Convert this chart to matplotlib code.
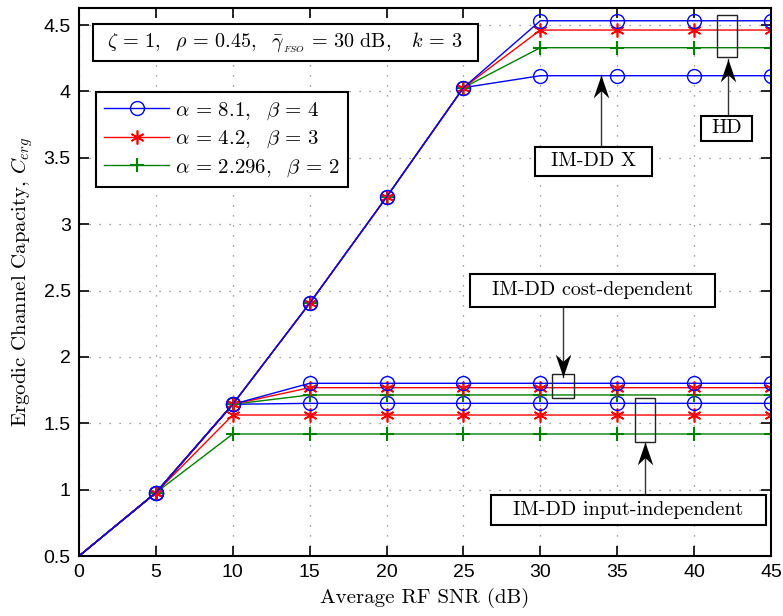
import matplotlib
matplotlib.use("Agg")
import matplotlib.pyplot as plt
from matplotlib.patches import Rectangle
from matplotlib.path import Path

# average RF SNR (dB)
snr = [0, 5, 10, 15, 20, 25, 30, 35, 40, 45]

# HD curves, one per (alpha, beta) pair
hd_blue = [0.5, 0.977, 1.643, 2.404, 3.204, 4.028, 4.532, 4.532, 4.532, 4.532]
hd_red = [0.5, 0.977, 1.643, 2.404, 3.204, 4.028, 4.462, 4.462, 4.462, 4.462]
hd_green = [0.5, 0.977, 1.643, 2.404, 3.204, 4.028, 4.329, 4.329, 4.329, 4.329]

# IM-DD X (one curve)
imdd_x = [0.5, 0.977, 1.643, 2.404, 3.204, 4.028, 4.118, 4.118, 4.118, 4.118]

# IM-DD cost-dependent
cost_blue = [0.5, 0.977, 1.643, 1.801, 1.801, 1.801, 1.801, 1.801, 1.801, 1.801]
cost_red = [0.5, 0.977, 1.643, 1.768, 1.768, 1.768, 1.768, 1.768, 1.768, 1.768]
cost_green = [0.5, 0.977, 1.643, 1.713, 1.713, 1.713, 1.713, 1.713, 1.713, 1.713]

# IM-DD input-independent
indep_blue = [0.5, 0.977, 1.643, 1.650, 1.650, 1.650, 1.650, 1.650, 1.650, 1.650]
indep_red = [0.5, 0.977, 1.562, 1.562, 1.562, 1.562, 1.562, 1.562, 1.562, 1.562]
indep_green = [0.5, 0.977, 1.419, 1.419, 1.419, 1.419, 1.419, 1.419, 1.419, 1.419]

labels = [r"$\alpha\,=\,8.1,\ \ \beta\,=\,4$",
          r"$\alpha\,=\,4.2,\ \ \beta\,=\,3$",
          r"$\alpha\,=\,2.296,\ \ \beta\,=\,2$"]

plt.rcParams["mathtext.fontset"] = "cm"
plt.rcParams["font.family"] = ["Liberation Sans", "DejaVu Sans"]

fig = plt.figure(figsize=(7.83, 6.16), dpi=100)
ax = fig.add_axes([0.1009, 0.0974, 0.8838, 0.8896])

star = (6, 2, 0)
styles = {
    "g": dict(color="green", marker="+", ms=10, mew=1.5),
    "r": dict(color="red", marker=star, ms=10, mew=1.2),
    "b": dict(color="blue", marker="o", ms=10, mew=1, mfc="none"),
}
mk = slice(1, None)

for ys, c in [(indep_green, "g"), (indep_red, "r"), (indep_blue, "b"),
              (cost_green, "g"), (cost_red, "r"), (cost_blue, "b")]:
    ax.plot(snr, ys, lw=1, markevery=mk, **styles[c])

ax.plot(snr, imdd_x, lw=1, markevery=mk, **styles["b"])
h_g, = ax.plot(snr, hd_green, lw=1, markevery=mk, **styles["g"])
h_r, = ax.plot(snr, hd_red, lw=1, markevery=mk, **styles["r"])
h_b, = ax.plot(snr, hd_blue, lw=1, markevery=mk, **styles["b"])

ax.set_xlim(0, 45)
ax.set_ylim(0.5, 4.628)
ax.set_xticks(range(0, 46, 5))
ax.set_yticks([0.5, 1, 1.5, 2, 2.5, 3, 3.5, 4, 4.5])
ax.set_yticklabels(["0.5", "1", "1.5", "2", "2.5", "3", "3.5", "4", "4.5"])
ax.tick_params(direction="in", length=7, width=1.2, top=True, right=True,
               labelsize=14, pad=6)
for s in ax.spines.values():
    s.set_linewidth(1.5)
ax.grid(True, color="#808080", linestyle=(0, (1, 7)), lw=0.9)

ax.set_xlabel("Average RF SNR (dB)", family="cmr10", fontsize=15, labelpad=5)
ax.set_ylabel(r"Ergodic Channel Capacity, $C_{erg}$", family="cmr10",
              fontsize=15, labelpad=6)

leg = ax.legend([h_b, h_r, h_g], labels, loc="upper left",
                bbox_to_anchor=(0.0246, 0.847), fontsize=15, fancybox=False,
                edgecolor="black", framealpha=1, handlelength=3.1,
                handletextpad=0.3, borderaxespad=0, borderpad=0.4,
                labelspacing=0.33)
leg.get_frame().set_linewidth(1.5)

# arrow head with swept back barbs, tip at the origin
head_up = Path([(0, 0), (-0.34, -1), (0, -0.68), (0.34, -1), (0, 0)],
               [Path.MOVETO, Path.LINETO, Path.LINETO, Path.LINETO, Path.CLOSEPOLY])
head_down = Path([(0, 0), (-0.34, 1), (0, 0.68), (0.34, 1), (0, 0)],
                 [Path.MOVETO, Path.LINETO, Path.LINETO, Path.LINETO, Path.CLOSEPOLY])


def box(x0, x1, y0, y1, text=None, size=14.5):
    ax.add_patch(Rectangle((x0, y1), x1 - x0, y0 - y1, fc="white", ec="black",
                           lw=1.5, zorder=6))
    if text:
        ax.text((x0 + x1) / 2, (y0 + y1) / 2, text, ha="center", va="center",
                family="cmr10", fontsize=size, zorder=7)


def arrow(x, y_from, y_to):
    ax.plot([x, x], [y_from, y_to], color="#333333", lw=1, zorder=5)
    head = head_up if y_to > y_from else head_down
    ax.plot([x], [y_to], marker=head, ms=33, color="black", mew=0, zorder=5)


def frame(x0, x1, y0, y1):
    ax.add_patch(Rectangle((x0, y1), x1 - x0, y0 - y1, fill=False,
                           ec="#222222", lw=1, zorder=5))


# parameter box
box(0.89, 25.95, 4.508, 4.229)
ax.text(13.4, 4.37,
        r"$\zeta\,=\,1,\ \ \rho\,=\,0.45,\ \ \bar{\gamma}_{_{FSO}}\,=\,30\ \mathrm{dB},\ \ \ k\,=\,3$",
        ha="center", va="center", fontsize=14.5, zorder=7)

# HD
frame(41.47, 42.81, 4.575, 4.257)
arrow(42.2, 3.817, 4.244)
box(40.43, 43.75, 3.817, 3.628, "HD")

# IM-DD X
arrow(33.92, 3.583, 4.123)
box(29.65, 37.26, 3.583, 3.365, "IM-DD X")

# IM-DD cost-dependent
frame(30.74, 32.21, 1.869, 1.692)
arrow(31.49, 2.378, 1.851)
box(25.43, 41.36, 2.624, 2.378, "IM-DD cost-dependent")

# IM-DD input-independent
frame(36.16, 37.46, 1.688, 1.361)
arrow(36.81, 0.96, 1.361)
box(26.77, 44.67, 0.96, 0.734, "IM-DD input-independent")

fig.savefig("out.png", dpi=100)
